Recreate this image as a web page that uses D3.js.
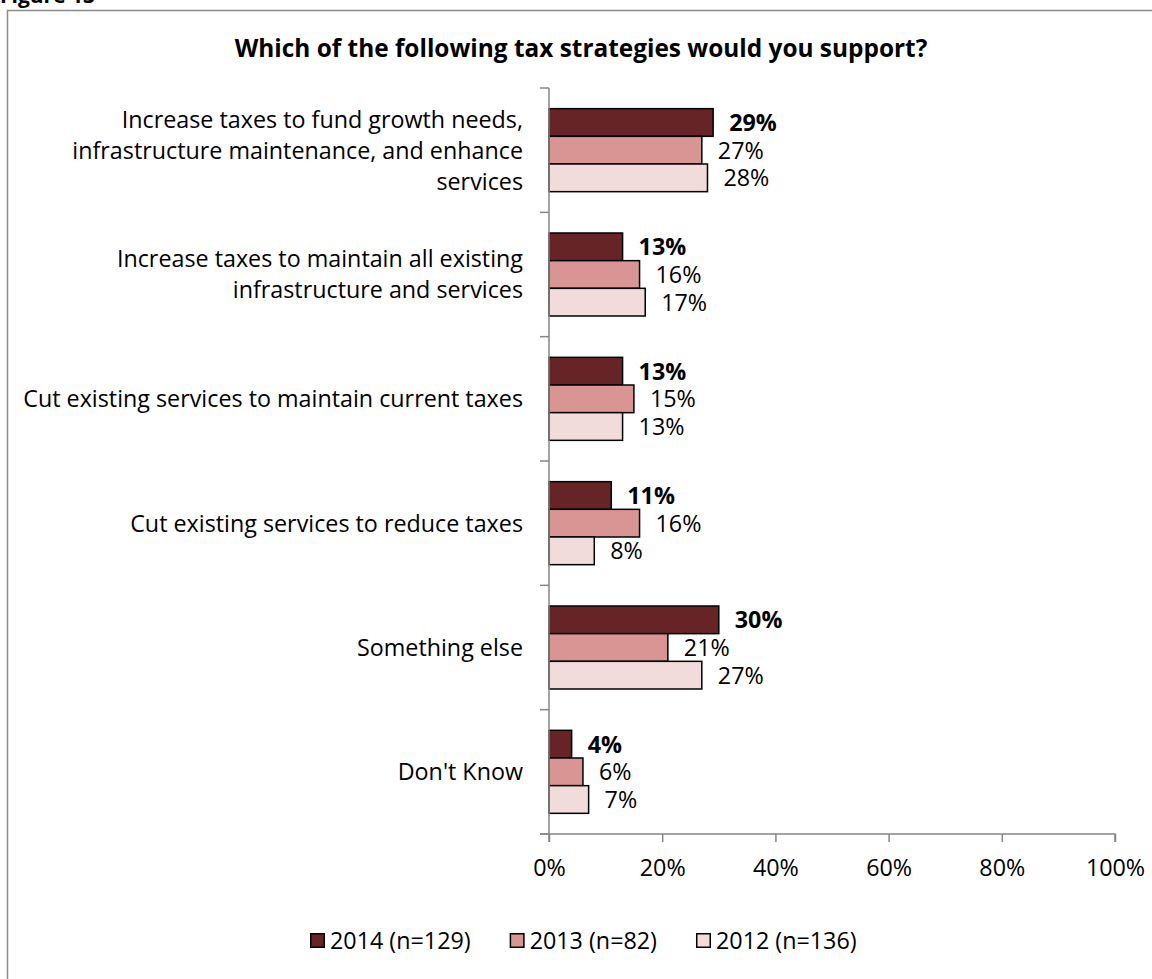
<!DOCTYPE html>
<html>
<head>
<meta charset="utf-8">
<script src="https://cdn.jsdelivr.net/npm/d3@7"></script>
<style>
  html, body { margin: 0; padding: 0; background: #fff; }
  svg { display: block; }
  text { font-family: "Open Sans", "Noto Sans", sans-serif; fill: #000; }
</style>
</head>
<body>
<svg id="chart" width="1152" height="979"></svg>
<script>
// Survey responses, percent of respondents per year
const categories = [
  ["Increase taxes to fund growth needs,", "infrastructure maintenance, and enhance", "services"],
  ["Increase taxes to maintain all existing", "infrastructure and services"],
  ["Cut existing services to maintain current taxes"],
  ["Cut existing services to reduce taxes"],
  ["Something else"],
  ["Don't Know"]
];
const seriesNames = ["2014 (n=129)", "2013 (n=82)", "2012 (n=136)"];
const values2014 = [29, 13, 13, 11, 30, 4];
const values2013 = [27, 16, 15, 16, 21, 6];
const values2012 = [28, 17, 13, 8, 27, 7];
const seriesColors = ["#662426", "#d99594", "#f2dcdb"];
const xTicks = [0, 20, 40, 60, 80, 100];
const titleText = "Which of the following tax strategies would you support?";
const figureText = "Figure 13";

const seriesValues = [values2014, values2013, values2012];

const svg = d3.select("#chart");
const fontSize = 23.3;
const titleSize = 24.4;

// Outer frame around the figure
svg.append("rect")
  .attr("x", 7.5).attr("y", 10.5)
  .attr("width", 1160).attr("height", 990)
  .attr("fill", "none").attr("stroke", "#8a8a8a").attr("stroke-width", 1.5);

// Caption sitting above the frame
svg.append("text")
  .attr("x", 0).attr("y", 3)
  .attr("font-size", 21).attr("font-weight", "bold")
  .text(figureText);

// Title
svg.append("text")
  .attr("x", 581).attr("y", 57)
  .attr("text-anchor", "middle")
  .attr("font-size", titleSize).attr("font-weight", "bold")
  .text(titleText);

const plot = { left: 549, right: 1115, top: 88, bottom: 834 };

const x = d3.scaleLinear().domain([0, 100]).range([plot.left, plot.right]);
const y = d3.scaleBand()
  .domain(d3.range(categories.length))
  .range([plot.top, plot.bottom])
  .padding(0);
const ySub = d3.scaleBand()
  .domain(d3.range(seriesNames.length))
  .range([0, y.bandwidth()])
  .paddingInner(0)
  .paddingOuter(0.747);

const axisColor = "#868686";

// Bars
const groups = svg.append("g").selectAll("g")
  .data(categories.map((c, i) => i))
  .join("g")
  .attr("transform", i => `translate(0,${y(i)})`);

groups.each(function (ci) {
  const g = d3.select(this);
  seriesValues.forEach((vals, si) => {
    g.append("rect")
      .attr("x", x(0))
      .attr("y", ySub(si))
      .attr("width", x(vals[ci]) - x(0))
      .attr("height", ySub.bandwidth())
      .attr("fill", seriesColors[si])
      .attr("stroke", "#000")
      .attr("stroke-width", 1.5);
    g.append("text")
      .attr("x", x(vals[ci]) + 16)
      .attr("y", ySub(si) + ySub.bandwidth() / 2)
      .attr("dy", "0.36em")
      .attr("font-size", fontSize)
      .attr("font-weight", si === 0 ? "bold" : "normal")
      .text(vals[ci] + "%");
  });
});

// Category axis (left)
const yAxisG = svg.append("g");
yAxisG.append("line")
  .attr("x1", plot.left).attr("x2", plot.left)
  .attr("y1", plot.top).attr("y2", plot.bottom + 8)
  .attr("stroke", axisColor).attr("stroke-width", 1.5);
yAxisG.selectAll("line.tick")
  .data(d3.range(categories.length + 1))
  .join("line")
  .attr("class", "tick")
  .attr("x1", plot.left - 9).attr("x2", plot.left)
  .attr("y1", i => i < categories.length ? y(i) : plot.bottom)
  .attr("y2", i => i < categories.length ? y(i) : plot.bottom)
  .attr("stroke", axisColor).attr("stroke-width", 1.5);

// Category labels
const lineGap = 31;
categories.forEach((lines, ci) => {
  const cy = y(ci) + y.bandwidth() / 2;
  const t = svg.append("text")
    .attr("text-anchor", "end")
    .attr("font-size", fontSize);
  lines.forEach((ln, li) => {
    t.append("tspan")
      .attr("x", plot.left - 26)
      .attr("y", cy + (li - (lines.length - 1) / 2) * lineGap)
      .attr("dy", "0.36em")
      .text(ln);
  });
});

// Value axis (bottom)
const xAxis = d3.axisBottom(x)
  .tickValues(xTicks)
  .tickSize(8)
  .tickPadding(17)
  .tickFormat(d => d + "%");
const xAxisG = svg.append("g")
  .attr("transform", `translate(0,${plot.bottom})`)
  .call(xAxis);
xAxisG.select(".domain")
  .attr("d", `M${plot.left - 9},0H${plot.right}V8`)
  .attr("stroke", axisColor).attr("stroke-width", 1.5);
xAxisG.selectAll(".tick line").attr("stroke", axisColor).attr("stroke-width", 1.5);
xAxisG.selectAll(".tick text")
  .attr("font-size", fontSize)
  .attr("font-family", "'Open Sans', 'Noto Sans', sans-serif")
  .attr("fill", "#000");

// Legend
const legend = svg.append("g");
let lx = 310;
const legendY = 933;
seriesNames.forEach((name, si) => {
  legend.append("rect")
    .attr("x", lx + 0.75).attr("y", legendY + 0.75)
    .attr("width", 13.5).attr("height", 13.5)
    .attr("fill", seriesColors[si])
    .attr("stroke", "#000").attr("stroke-width", 1.5);
  const t = legend.append("text")
    .attr("x", lx + 20)
    .attr("y", legendY + 7.5)
    .attr("dy", "0.36em")
    .attr("font-size", fontSize)
    .text(name);
  lx += 20 + t.node().getComputedTextLength() + 39;
});
</script>
</body>
</html>
